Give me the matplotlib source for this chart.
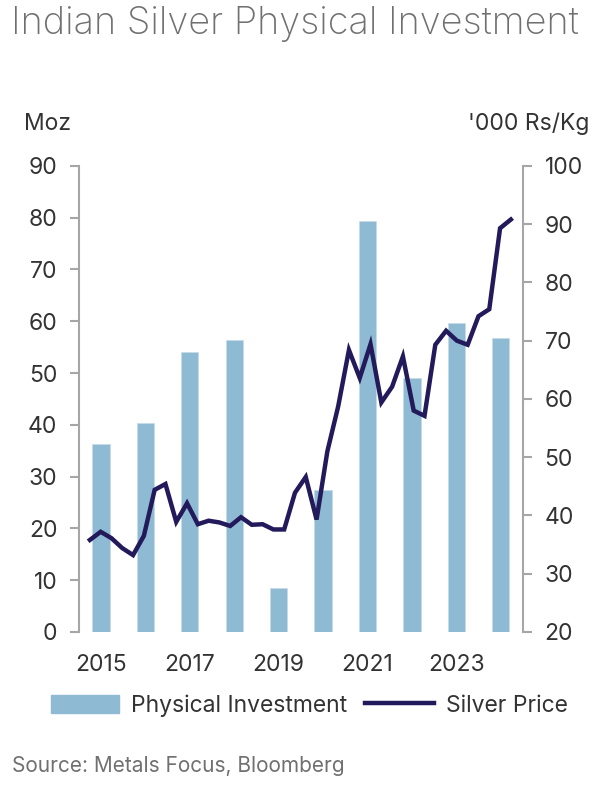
import numpy as np
import matplotlib
matplotlib.use("Agg")
import matplotlib.pyplot as plt
from matplotlib.patches import Patch
from matplotlib.lines import Line2D

plt.rcParams['font.family'] = ['Inter', 'DejaVu Sans']

# data
years = ['2015', '2016', '2017', '2018', '2019', '2020', '2021', '2022', '2023', '2024']
investment = [36.3, 40.3, 54.0, 56.3, 8.4, 27.4, 79.3, 49.1, 59.6, 56.8]   # Moz
# quarterly silver price, '000 Rs/Kg, 2015 Q1 .. 2024 Q4
price = [35.8, 37.2, 36.1, 34.4, 33.2, 36.5, 44.4, 45.4, 38.9, 42.1,
         38.5, 39.1, 38.8, 38.2, 39.7, 38.4, 38.5, 37.6, 37.6, 43.9,
         46.6, 39.3, 51.0, 58.7, 68.4, 63.6, 69.4, 59.4, 62.1, 67.3,
         58.0, 57.1, 69.3, 71.7, 70.0, 69.3, 74.2, 75.4, 89.3, 90.8]

bar_col = '#8fbad3'
line_col = '#221a5a'
spine_col = '#a6a6a6'
txt_col = '#333333'
fs = 16.5

fig = plt.figure(figsize=(6.06, 7.9), dpi=100)
ax = fig.add_axes([0.130, 0.200, 0.733, 0.590])
ax2 = ax.twinx()

xb = np.arange(len(years))
ax.bar(xb, investment, width=0.39, color=bar_col, edgecolor='#c5dbe8',
       linewidth=0.6, zorder=2)

xq = -0.25 + np.arange(len(price)) * 0.243
ax2.plot(xq, price, color=line_col, lw=3.2, solid_joinstyle='miter', zorder=3)

ax.set_xlim(-0.5, len(years) - 0.5)
ax.set_ylim(0, 90)
ax.set_yticks(np.arange(0, 91, 10))
ax2.set_ylim(20, 100)
ax2.set_yticks(np.arange(20, 101, 10))

ax.set_xticks(xb[::2])
ax.set_xticklabels(years[::2])

for a in (ax, ax2):
    for s in ('top', 'bottom'):
        a.spines[s].set_visible(False)
    a.spines['left'].set_color(spine_col)
    a.spines['right'].set_color(spine_col)
    a.spines['left'].set_linewidth(1.5)
    a.spines['right'].set_linewidth(1.5)
    a.tick_params(axis='y', colors=spine_col, length=6.5, width=1.5,
                  labelsize=fs, labelcolor=txt_col, pad=9)
ax.spines['right'].set_visible(False)
ax2.spines['left'].set_visible(False)
ax.tick_params(axis='x', length=0, labelsize=fs, labelcolor=txt_col, pad=16)
ax.set_zorder(ax2.get_zorder() - 1)
ax2.patch.set_visible(False)

fig.text(0.018, 0.970, 'Indian Silver Physical Investment', fontsize=27.3,
         color='#707070', fontweight='light', va='center', ha='left')
fig.text(0.040, 0.843, 'Moz', fontsize=fs, color=txt_col, va='center', ha='left')
fig.text(0.972, 0.843, "'000 Rs/Kg", fontsize=fs, color=txt_col, va='center', ha='right')
fig.text(0.02, 0.018, 'Source: Metals Focus, Bloomberg', fontsize=15,
         color='#707070', va='bottom', ha='left')

handles = [Patch(color=bar_col, label='Physical Investment'),
           Line2D([], [], color=line_col, lw=3.2, label='Silver Price')]
fig.legend(handles=handles, loc='center', bbox_to_anchor=(0.51, 0.107), ncol=2,
           frameon=False, fontsize=fs, labelcolor=txt_col, handlelength=3.0,
           handleheight=0.8, columnspacing=0.8, handletextpad=0.5)

fig.savefig('out.png', dpi=100)
